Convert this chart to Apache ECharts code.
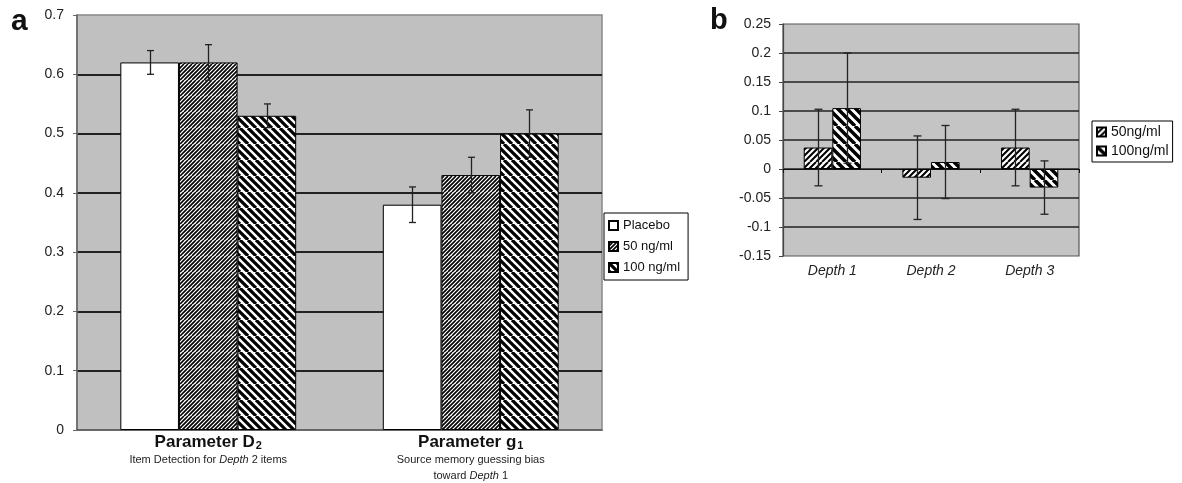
<!DOCTYPE html>
<html>
<head>
<meta charset="utf-8">
<script src="https://cdn.jsdelivr.net/npm/echarts@6/dist/echarts.min.js"></script>
<style>
  html, body { margin: 0; padding: 0; background: #fff; }
  #chart { width: 1182px; height: 483px; }
</style>
</head>
<body>
<div id="chart"></div>
<script>
  // panel a
  var categoriesA = ['Parameter D', 'Parameter g'];
  var subscriptsA = ['2', '1'];
  var captionsA = [
    ['Item Detection for |Depth| 2 items'],
    ['Source memory guessing bias', 'toward |Depth| 1']
  ];
  var seriesNamesA = ['Placebo', '50 ng/ml', '100 ng/ml'];
  var placeboA = [0.62, 0.38];
  var ng50A = [0.62, 0.43];
  var ng100A = [0.53, 0.50];
  var placeboErrA = [0.02, 0.03];
  var ng50ErrA = [0.03, 0.03];
  var ng100ErrA = [0.02, 0.04];

  // panel b
  var categoriesB = ['Depth 1', 'Depth 2', 'Depth 3'];
  var seriesNamesB = ['50ng/ml', '100ng/ml'];
  var ng50B = [0.037, -0.015, 0.037];
  var ng100B = [0.105, 0.012, -0.032];
  var ng50ErrB = [0.066, 0.072, 0.066];
  var ng100ErrB = [0.095, 0.063, 0.046];

  var FONT = '"Liberation Sans", Arial, sans-serif';

  // diagonal hatching, dir 1 = '/', dir -1 = '\'
  function stripes(size, step, width, dir) {
    var c = document.createElement('canvas');
    c.width = c.height = size;
    var g = c.getContext('2d');
    g.fillStyle = '#fff';
    g.fillRect(0, 0, size, size);
    g.strokeStyle = '#000';
    g.lineWidth = width;
    g.beginPath();
    for (var k = -size; k <= 2 * size; k += step) {
      if (dir > 0) { g.moveTo(k, size); g.lineTo(k + size, 0); }
      else { g.moveTo(k, 0); g.lineTo(k + size, size); }
    }
    g.stroke();
    return { image: c, repeat: 'repeat' };
  }

  var gapA = 0.33, gapB = 0.42;

  function errorSeries(name, gi, idx, n, gap, values, errs, cap) {
    return {
      type: 'custom', name: name + ' err', xAxisIndex: gi, yAxisIndex: gi, z: 5, silent: true,
      encode: { x: 0, y: [1, 2] },
      data: values.map(function (v, i) { return [i, v - errs[i], v + errs[i]]; }),
      renderItem: function (params, api) {
        var band = api.size([1, 0])[0];
        var bw = band * (1 - gap) / n;
        var off = (idx - (n - 1) / 2) * bw;
        var hi = api.coord([api.value(0), api.value(2)]);
        var lo = api.coord([api.value(0), api.value(1)]);
        var x = Math.round(hi[0] + off) + 0.5;
        var st = { stroke: '#222', lineWidth: 1.3 };
        return { type: 'group', children: [
          { type: 'line', shape: { x1: x, y1: hi[1], x2: x, y2: lo[1] }, style: st },
          { type: 'line', shape: { x1: x - cap, y1: hi[1], x2: x + cap, y2: hi[1] }, style: st },
          { type: 'line', shape: { x1: x - cap, y1: lo[1], x2: x + cap, y2: lo[1] }, style: st }
        ] };
      }
    };
  }

  function bar(name, gi, values, color, gap) {
    return {
      type: 'bar', name: name, xAxisIndex: gi, yAxisIndex: gi, data: values,
      barGap: '0%', barCategoryGap: (gap * 100) + '%',
      itemStyle: { color: color, borderColor: '#000', borderWidth: 1 }
    };
  }

  function numLabel(v) { return String(+v.toFixed(2)); }

  var chart = echarts.init(document.getElementById('chart'));
  chart.setOption({
    animation: false,
    textStyle: { fontFamily: FONT },
    title: [
      { text: 'a', left: 6, top: 2, textStyle: { fontSize: 30, fontWeight: 'bold', color: '#111', fontFamily: FONT } },
      { text: 'b', left: 705, top: 1, textStyle: { fontSize: 29, fontWeight: 'bold', color: '#111', fontFamily: FONT } }
    ],
    grid: [
      { left: 77, top: 15, right: 580, bottom: 53, show: true, backgroundColor: '#c0c0c0',
        borderColor: '#888', borderWidth: 1.5, outerBoundsMode: 'none' },
      { left: 783, top: 24, right: 103, bottom: 227, show: true, backgroundColor: '#c4c4c4',
        borderColor: '#555', borderWidth: 1.2, outerBoundsMode: 'none' }
    ],
    legend: [
      { data: seriesNamesA, orient: 'vertical', left: 604, top: 213, icon: 'rect',
        itemWidth: 9, itemHeight: 9, itemGap: 8, padding: [6, 8, 6, 4],
        backgroundColor: '#fff', borderColor: '#000', borderWidth: 1, borderRadius: 0,
        textStyle: { fontSize: 13, color: '#111', fontFamily: FONT } },
      { data: seriesNamesB, orient: 'vertical', left: 1092, top: 121, icon: 'rect',
        itemWidth: 9, itemHeight: 9, itemGap: 5, padding: [4, 4, 4, 4],
        backgroundColor: '#fff', borderColor: '#000', borderWidth: 1, borderRadius: 0,
        textStyle: { fontSize: 14, color: '#111', fontFamily: FONT } }
    ],
    xAxis: [
      { type: 'category', gridIndex: 0, data: categoriesA,
        axisLine: { lineStyle: { color: '#555', width: 1.5 } },
        axisTick: { show: false },
        axisLabel: {
          interval: 0, margin: 3, color: '#111',
          formatter: function (v) {
            var idx = categoriesA.indexOf(v);
            var s = '{m|' + v + '}{s|' + subscriptsA[idx] + '}';
            captionsA[idx].forEach(function (line) {
              s += '\n' + line.split('|').map(function (p, j) {
                return '{' + (j % 2 ? 'ti' : 't') + '|' + p + '}';
              }).join('');
            });
            return s;
          },
          rich: {
            m: { fontSize: 17, fontWeight: 'bold', lineHeight: 19, color: '#111', fontFamily: FONT },
            s: { fontSize: 11, fontWeight: 'bold', lineHeight: 19, padding: [6, 0, 0, 1], color: '#111', fontFamily: FONT },
            t: { fontSize: 11, lineHeight: 16, color: '#222', fontFamily: FONT },
            ti: { fontSize: 11, fontStyle: 'italic', lineHeight: 16, color: '#222', fontFamily: FONT }
          }
        } },
      { type: 'category', gridIndex: 1, data: categoriesB,
        axisLine: { onZero: true, lineStyle: { color: '#111', width: 1.2 } },
        axisTick: { show: true, length: 4, lineStyle: { color: '#111' } },
        axisLabel: { show: false } },
      { type: 'category', gridIndex: 1, data: categoriesB, position: 'bottom',
        axisLine: { show: false, onZero: false }, axisTick: { show: false },
        axisLabel: { margin: 8, fontSize: 14, fontStyle: 'italic', color: '#222', fontFamily: FONT } }
    ],
    yAxis: [
      { type: 'value', gridIndex: 0, min: 0, max: 0.7, interval: 0.1,
        axisLine: { show: true, lineStyle: { color: '#666', width: 1.5 } },
        axisTick: { show: true, length: 4, lineStyle: { color: '#666' } },
        axisLabel: { margin: 13, fontSize: 14, color: '#222', formatter: numLabel },
        splitLine: { show: true, showMinLine: false, showMaxLine: false, lineStyle: { color: '#222', width: 1.8 } } },
      { type: 'value', gridIndex: 1, min: -0.15, max: 0.25, interval: 0.05,
        axisLine: { show: true, lineStyle: { color: '#444', width: 1.2 } },
        axisTick: { show: true, length: 4, lineStyle: { color: '#444' } },
        axisLabel: { margin: 12, fontSize: 14, color: '#222', formatter: numLabel },
        splitLine: { show: true, showMinLine: false, showMaxLine: false, lineStyle: { color: '#222', width: 1.5 } } }
    ],
    series: [
      bar(seriesNamesA[0], 0, placeboA, '#fff', gapA),
      bar(seriesNamesA[1], 0, ng50A, stripes(16, 4, 1.6, 1), gapA),
      bar(seriesNamesA[2], 0, ng100A, stripes(16, 8, 3.2, -1), gapA),
      errorSeries(seriesNamesA[0], 0, 0, 3, gapA, placeboA, placeboErrA, 3.5),
      errorSeries(seriesNamesA[1], 0, 1, 3, gapA, ng50A, ng50ErrA, 3.5),
      errorSeries(seriesNamesA[2], 0, 2, 3, gapA, ng100A, ng100ErrA, 3.5),
      bar(seriesNamesB[0], 1, ng50B, stripes(18, 6, 2, 1), gapB),
      bar(seriesNamesB[1], 1, ng100B, stripes(18, 9, 3.5, -1), gapB),
      errorSeries(seriesNamesB[0], 1, 0, 2, gapB, ng50B, ng50ErrB, 4),
      errorSeries(seriesNamesB[1], 1, 1, 2, gapB, ng100B, ng100ErrB, 4)
    ]
  });
</script>
</body>
</html>
